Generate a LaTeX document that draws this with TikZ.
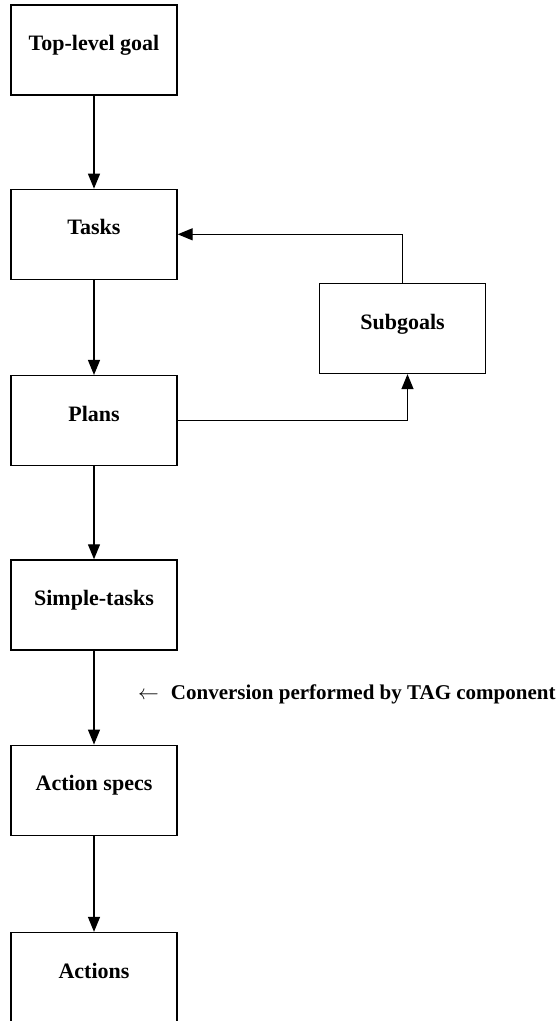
\documentclass[tikz,border=0pt]{standalone}
\usepackage{fontspec}
\setmainfont{Liberation Serif}
\usetikzlibrary{positioning,arrows.meta}

\begin{document}
\begin{tikzpicture}[x=1pt,y=1pt,node distance=94pt,
                stage/.style = {draw, line width=1.3pt, minimum width=166pt, minimum height=90pt,
                                text depth=14pt, font=\fontsize{22}{26}\selectfont\bfseries},
                flow/.style = {line width=1.3pt, -{Triangle[length=15pt,width=12pt]}}]
                \useasboundingbox (0,0) rectangle (556,-1021);
                \clip (0,0) rectangle (556,-1021);
                \node[stage] (goal) at (94,-50) {Top-level goal};
                \node[stage] (tasks) [below=93pt of goal] {Tasks};
                \node[stage] (plans) [below=95pt of tasks] {Plans};
                \node[stage] (simple) [below=93pt of plans] {Simple-tasks};
                \node[stage] (specs) [below=94pt of simple] {Action specs};
                \node[stage] (actions) [below=96pt of specs] {Actions};
                \node[stage] (sub) at (402.5,-328.5) {Subgoals};
                \node[anchor=west, inner sep=0pt, font=\fontsize{21}{25}\selectfont\bfseries] (conv) at (138,-694)
                    {$\leftarrow$\hspace{12pt}Conversion performed by TAG component};
                \path[every edge/.style={draw, flow}]
                    (goal) edge (tasks)
                    (tasks) edge (plans)
                    (plans) edge (simple)
                    (simple) edge (specs)
                    (specs) edge (actions);
                \draw[flow] (sub.north) |- (tasks.east);
                \draw[flow] (plans.east) -| ([xshift=5pt]sub.south);
            \end{tikzpicture}
\end{document}
